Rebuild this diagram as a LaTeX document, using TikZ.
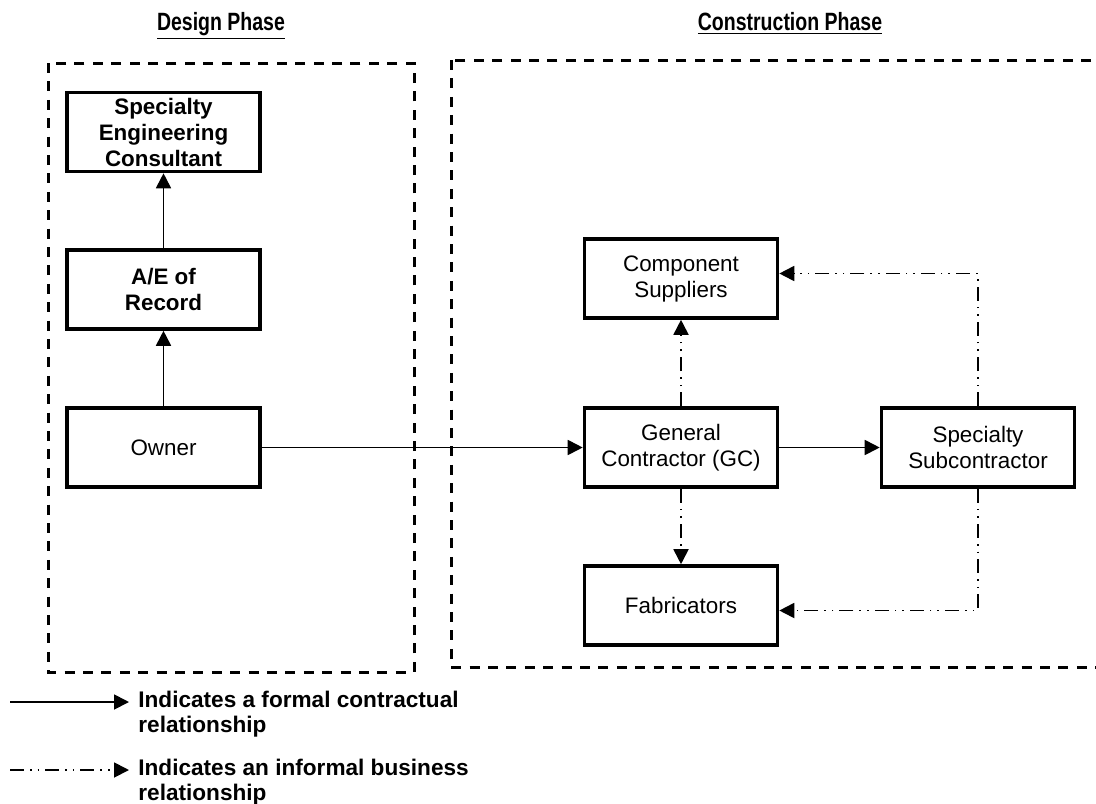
\documentclass[tikz,border=0pt]{standalone}
\usepackage{fontspec}
\setmainfont{Liberation Sans}
\newfontfamily\narrowfont[FakeStretch=0.78]{Liberation Sans}
\usepackage{tikz}
\usetikzlibrary{positioning, arrows.meta, calc}

\tikzset{
    party/.style={draw, line width=1.8pt, minimum width=96.5pt, minimum height=39.5pt,
        inner sep=0pt, align=center, font=\fontsize{11.2}{13}\selectfont},
    keyparty/.style={party, font=\fontsize{11.2}{13}\selectfont\bfseries},
    phasebox/.style={line width=1.5pt, dash pattern=on 5pt off 4.2pt},
    phasetitle/.style={anchor=base, font=\fontsize{12.5}{14}\selectfont\narrowfont\bfseries},
    formal/.style={line width=0.9pt, -{Triangle[length=7.5pt,width=7.5pt]}},
    informal/.style={line width=0.9pt, -{Triangle[length=7.5pt,width=7.5pt]},
        dash pattern=on 7pt off 3pt on 0.8pt off 3pt on 0.8pt off 3pt},
    keytext/.style={anchor=west, align=left, inner sep=0pt,
        font=\fontsize{11.3}{12.5}\selectfont\bfseries}
}

\begin{document}
\begin{tikzpicture}[x=0.5pt, y=-0.5pt]
        \useasboundingbox (0,0) rectangle (1096,803);
        \clip (0,0) rectangle (1096,803);

        % Phase headings and frames
        \node[phasetitle] (designtitle) at (221,30) {\underline{Design Phase}};
        \node[phasetitle] (constrtitle) at (790,30) {\underline{Construction Phase}};
        \draw[phasebox] (48,63) rectangle (414,672);
        \draw[phasebox] (451,60) rectangle (1130,667);

        % Design phase
        \node[keyparty] (sec) at (163.5,132) {Specialty\\Engineering\\Consultant};
        \node[keyparty] (ae) at (163.5,289.5) {A/E of\\Record};
        \node[party] (owner) at (163.5,447.5) {Owner};

        % Construction phase
        \node[party] (cs) at (681,278.5) {Component\\Suppliers};
        \node[party] (gc) at (681,447.5) {General\\Contractor (GC)};
        \node[party] (fab) at (681,605.5) {Fabricators};
        \node[party] (sub) at (978,447.5) {Specialty\\Subcontractor};

        % Formal relationships
        \draw[formal] (owner) -- (ae);
        \draw[formal] (ae) -- (sec);
        \draw[formal] (owner) -- (gc);
        \draw[formal] (gc) -- (sub);

        % Informal relationships
        \draw[informal] (gc) -- (cs);
        \draw[informal] (gc) -- (fab);
        \draw[informal] (sub.north) |- ($(cs.east)+(0,-5)$);
        \draw[informal] (sub.south) |- ($(fab.east)+(0,5)$);

        % Legend
        \coordinate (formalstart) at (10,702);
        \coordinate (formalend) at (129,702);
        \draw[formal] (formalstart) -- (formalend);
        \node[keytext] (formalkey) at (138,714.5) {Indicates a formal contractual\\relationship};

        \coordinate (informalstart) at (10,770);
        \coordinate (informalend) at (129,770);
        \draw[informal] (informalstart) -- (informalend);
        \node[keytext] (informalkey) at (138,782.5) {Indicates an informal business\\relationship};
\end{tikzpicture}
\end{document}
